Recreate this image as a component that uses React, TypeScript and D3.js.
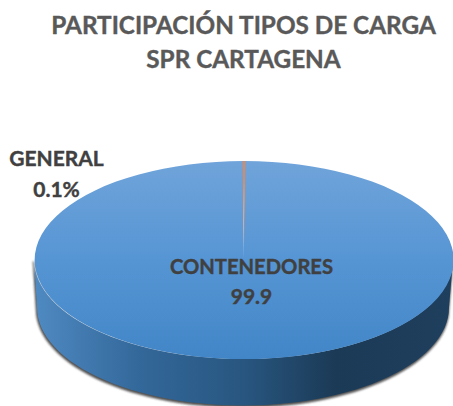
import React from "react";
import * as d3 from "d3";

const categories = ["CONTENEDORES", "GENERAL"];
const shares = [99.9, 0.1];
const titleLines = ["PARTICIPACIÓN TIPOS DE CARGA", "SPR CARTAGENA"];
const sliceLabels = ["99.9", "0.1%"];

const W = 453, H = 406;
const cx = 243.5, cy = 260, rx = 209.5, ry = 99;
const cx2 = 243, cy2 = 307.5, rx2 = 206, ry2 = 98;
const apexY = 245;
const font = "Lato, Carlito, sans-serif";

export default function App() {
  const pie = d3.pie<number>().sort(null).startAngle(-2 * Math.PI * shares[0] / 100).endAngle(2 * Math.PI * shares[1] / 100);
  const arcs = pie(shares);
  const half = arcs[1].endAngle - arcs[1].startAngle;
  const sliver = d3.arc()({ innerRadius: 0, outerRadius: 1, startAngle: -half, endAngle: half } as any) as string;
  const angle = d3.scaleLinear().domain([0, 60]).range([Math.PI, 2 * Math.PI]);
  const upper = d3.range(61).map((i) => {
    const a = angle(i);
    return [cx + rx * Math.cos(a), cy - ry * Math.sin(a)] as [number, number];
  });
  const lower = d3.range(61).map((i) => {
    const a = angle(60 - i);
    return [cx2 + rx2 * Math.cos(a), cy2 - ry2 * Math.sin(a)] as [number, number];
  });
  const line = d3.line();
  const sidePath = `${line(upper)}L${(line(lower) as string).slice(1)}Z`;
  return (
    <svg width={W} height={H} viewBox={`0 0 ${W} ${H}`} style={{ position: "absolute", left: 0, top: 0, background: "#fff" }}>
      <defs>
        <linearGradient id="top" x1="0" y1="0" x2="0" y2="1">
          <stop offset="0" stopColor="#70a4da" />
          <stop offset="0.5" stopColor="#5695d4" />
          <stop offset="1" stopColor="#4286c7" />
        </linearGradient>
        <linearGradient id="side" x1="0" y1="0" x2="1" y2="0">
          <stop offset="0" stopColor="#4f8ac2" />
          <stop offset="0.25" stopColor="#33689a" />
          <stop offset="0.5" stopColor="#285680" />
          <stop offset="0.72" stopColor="#1b3a56" />
          <stop offset="1" stopColor="#1f3f5e" />
        </linearGradient>
        <filter id="blur" x="-5%" y="-5%" width="110%" height="110%"><feGaussianBlur stdDeviation="1.3" /></filter>
      </defs>
      <g fontFamily={font} fontWeight={700} textAnchor="middle" stroke="#595959" strokeWidth={0.4}>
        {titleLines.map((t, i) => (
          <text key={t} x={243.5} y={33.5 + i * 34} fontSize={24.3} fill="#595959">{t}</text>
        ))}
      </g>
      <path d={sidePath} fill="#333" stroke="#333" strokeWidth={1.5} opacity={0.85} filter="url(#blur)" transform="translate(-0.5,1.5)" />
      <path d={sidePath} fill="url(#side)" />
      <path
        d={d3.arc()({ innerRadius: 0, outerRadius: 1, startAngle: arcs[0].startAngle, endAngle: arcs[0].endAngle } as any) as string}
        transform={`translate(${cx},${cy}) scale(${rx},${ry})`}
        fill="url(#top)"
      />
      <path d={sliver} transform={`translate(${cx + 0.5},${apexY}) scale(${rx},${apexY - 161})`} fill="#d98a5f" />
      <g fontFamily={font} fontWeight={700} textAnchor="middle" fill="#404040" stroke="#404040" strokeWidth={0.4}>
        <text x={251.5} y={274} fontSize={20.2}>{categories[0]}</text>
        <text x={251.5} y={304} fontSize={21}>{sliceLabels[0]}</text>
        <text x={56.5} y={166} fontSize={21}>{categories[1]}</text>
        <text x={56.5} y={197} fontSize={21}>{sliceLabels[1]}</text>
      </g>
    </svg>
  );
}
